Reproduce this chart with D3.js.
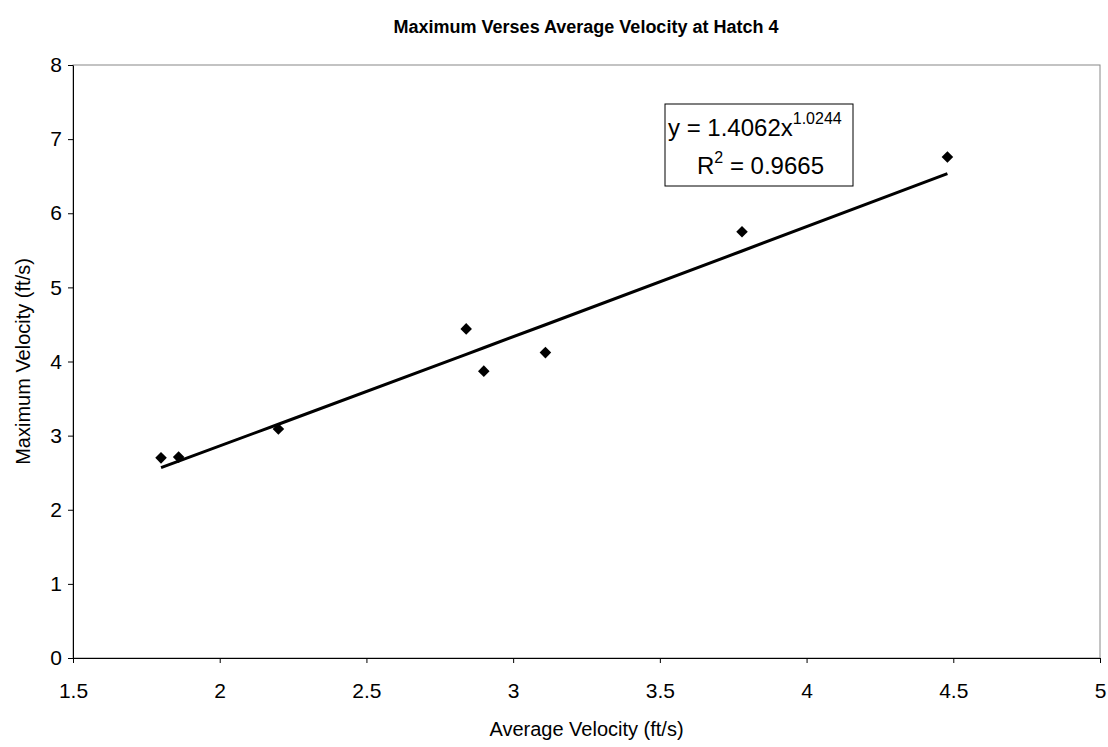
<!DOCTYPE html>
<html>
<head>
<meta charset="utf-8">
<script src="https://cdn.jsdelivr.net/npm/d3@7"></script>
<style>
  body { margin: 0; background: #fff; }
  text { font-family: "Liberation Sans", Arial, sans-serif; }
</style>
</head>
<body>
<div id="chart"></div>
<script>
var avgVel = [1.80, 1.86, 2.20, 2.84, 2.90, 3.11, 3.78, 4.48];
var maxVel = [2.70, 2.71, 3.09, 4.44, 3.87, 4.12, 5.75, 6.76];

// power trendline as printed on the chart
var fitCoef = 1.4062, fitExp = 1.0244, fitR2 = 0.9665;

var xTicks = [1.5, 2, 2.5, 3, 3.5, 4, 4.5, 5];
var yTicks = [0, 1, 2, 3, 4, 5, 6, 7, 8];

function draw_chart() {
  var W = 1108, H = 747;
  var pl = 73, pt = 65, pr = 1100, pb = 658;
  var font = "'Liberation Sans', Arial, sans-serif";

  var x = d3.scaleLinear().domain([1.5, 5]).range([pl, pr]);
  var y = d3.scaleLinear().domain([0, 8]).range([pb, pt]);

  var svg = d3.select("#chart").append("svg")
    .attr("width", W)
    .attr("height", H);

  /* Title */
  svg.append("text")
    .attr("x", 586)
    .attr("y", 33)
    .attr("text-anchor", "middle")
    .style("font-size", "18px")
    .style("font-weight", "bold")
    .text("Maximum Verses Average Velocity at Hatch 4");

  /* plot frame */
  svg.append("rect")
    .attr("x", pl)
    .attr("y", pt)
    .attr("width", pr - pl)
    .attr("height", pb - pt)
    .style("fill", "none")
    .style("stroke", "#888")
    .style("stroke-width", 1);

  /* axes */
  var xAxis = svg.append("g")
    .attr("transform", "translate(0," + pb + ")")
    .call(d3.axisBottom(x).tickValues(xTicks).tickSize(5).tickSizeOuter(0)
          .tickFormat(d3.format("")));
  xAxis.select(".domain").style("stroke", "#000");
  xAxis.selectAll("line").style("stroke", "#000");
  xAxis.selectAll("text")
    .attr("dy", 0)
    .attr("y", 40)
    .style("font-size", "21px")
    .style("font-family", font);

  var yAxis = svg.append("g")
    .attr("transform", "translate(" + pl + ",0)")
    .call(d3.axisLeft(y).tickValues(yTicks).tickSize(5).tickSizeOuter(0));
  yAxis.select(".domain").style("stroke", "#000");
  yAxis.selectAll("line").style("stroke", "#000");
  yAxis.selectAll("text")
    .attr("x", -11)
    .style("font-size", "21px")
    .style("font-family", font);

  /* axis labels */
  svg.append("text")
    .attr("x", (pl + pr) / 2)
    .attr("y", 736)
    .attr("text-anchor", "middle")
    .style("font-size", "20px")
    .text("Average Velocity (ft/s)");

  svg.append("text")
    .attr("transform", "translate(30," + ((pt + pb) / 2) + ") rotate(-90)")
    .attr("text-anchor", "middle")
    .style("font-size", "20px")
    .text("Maximum Velocity (ft/s)");

  /* trendline through the data x values */
  var fitX = avgVel.slice().sort(d3.ascending);
  var line = d3.line()
    .x(function(d) { return x(d); })
    .y(function(d) { return y(fitCoef * Math.pow(d, fitExp)); });

  svg.append("path")
    .datum(fitX)
    .attr("d", line)
    .style("fill", "none")
    .style("stroke", "#000")
    .style("stroke-width", 3);

  /* markers */
  svg.selectAll(".pt")
    .data(avgVel)
    .enter().append("path")
    .attr("class", "pt")
    .attr("transform", function(d, i) { return "translate(" + x(d) + "," + y(maxVel[i]) + ")"; })
    .attr("d", d3.symbol().type(d3.symbolDiamond2).size(85))
    .style("fill", "#000");

  /* equation box */
  var box = svg.append("g").attr("transform", "translate(665,104)");
  box.append("rect")
    .attr("width", 188)
    .attr("height", 82)
    .style("fill", "#fff")
    .style("stroke", "#000")
    .style("stroke-width", 1);

  var eq = box.append("text")
    .attr("x", 3)
    .attr("y", 32)
    .style("font-size", "24px");
  eq.append("tspan").text("y = " + fitCoef.toFixed(4) + "x");
  eq.append("tspan")
    .attr("dy", -12)
    .style("font-size", "16px")
    .text(fitExp.toFixed(4));

  var r2 = box.append("text")
    .attr("x", 32)
    .attr("y", 70)
    .style("font-size", "24px");
  r2.append("tspan").text("R");
  r2.append("tspan").attr("dy", -11).style("font-size", "16px").text("2");
  r2.append("tspan").attr("dy", 11).text(" = " + fitR2.toFixed(4));
}
draw_chart();
</script>
</body>
</html>
